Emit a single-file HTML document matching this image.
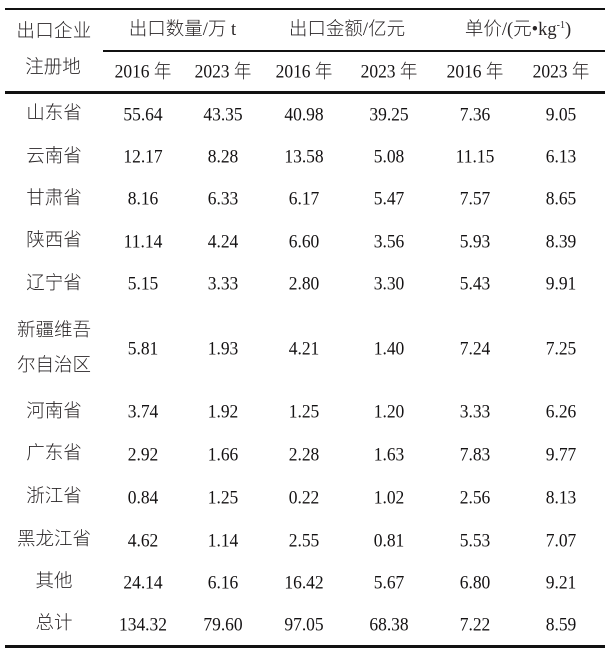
<!DOCTYPE html>
<html>
<head>
<meta charset="utf-8">
<style>
  html, body { margin:0; padding:0; background:#fff; }
  body { width:605px; height:657px; position:relative; overflow:hidden;
         font-family:"Liberation Serif","Noto Sans CJK SC",serif; color:#1a1718; }
  .l { position:absolute; background:#111; }
  .t { position:absolute; white-space:nowrap; line-height:1;
       transform:translate(-50%,-50%); }
  .c { font-family:"Liberation Serif","Noto Sans CJK SC",sans-serif; font-size:18.5px; font-weight:300; color:#2a2627; }
  .n { font-size:19px; transform:translate(-50%,-50%) scaleX(0.92); color:#141213; }
  .n span { font-weight:300; color:#2a2627; }
  .h { font-size:18.5px; font-weight:300; color:#2a2627; }
  sup { font-size:10px; vertical-align:7px; line-height:0; }
</style>
</head>
<body>
<div class="l" style="left:5px;top:7.5px;width:600px;height:2.5px"></div>
<div class="l" style="left:103px;top:50px;width:502px;height:2px"></div>
<div class="l" style="left:5px;top:91px;width:600px;height:2.5px"></div>
<div class="l" style="left:5px;top:645px;width:600px;height:2.5px"></div>

<div class="t c" style="left:54px;top:31.5px;letter-spacing:0.3px">出口企业</div>
<div class="t c" style="left:53px;top:68px">注册地</div>
<div class="t h" style="left:182.5px;top:30px">出口数量/万 t</div>
<div class="t h" style="left:347px;top:30px">出口金额/亿元</div>
<div class="t h" style="left:518px;top:30px">单价/(元•kg<sup>-1</sup>)</div>

<div class="t n" style="left:143px;top:72px">2016 <span>年</span></div>
<div class="t n" style="left:222.5px;top:72px">2023 <span>年</span></div>
<div class="t n" style="left:304px;top:72px">2016 <span>年</span></div>
<div class="t n" style="left:389px;top:72px">2023 <span>年</span></div>
<div class="t n" style="left:475px;top:72px">2016 <span>年</span></div>
<div class="t n" style="left:561px;top:72px">2023 <span>年</span></div>

<!-- rows -->
<div class="t c" style="left:54px;top:114px">山东省</div>
<div class="t n" style="left:143px;top:114.5px">55.64</div>
<div class="t n" style="left:222.5px;top:114.5px">43.35</div>
<div class="t n" style="left:304px;top:114.5px">40.98</div>
<div class="t n" style="left:389px;top:114.5px">39.25</div>
<div class="t n" style="left:475px;top:114.5px">7.36</div>
<div class="t n" style="left:561px;top:114.5px">9.05</div>

<div class="t c" style="left:54px;top:156.5px">云南省</div>
<div class="t n" style="left:143px;top:157px">12.17</div>
<div class="t n" style="left:222.5px;top:157px">8.28</div>
<div class="t n" style="left:304px;top:157px">13.58</div>
<div class="t n" style="left:389px;top:157px">5.08</div>
<div class="t n" style="left:475px;top:157px">11.15</div>
<div class="t n" style="left:561px;top:157px">6.13</div>

<div class="t c" style="left:54px;top:198.5px">甘肃省</div>
<div class="t n" style="left:143px;top:199px">8.16</div>
<div class="t n" style="left:222.5px;top:199px">6.33</div>
<div class="t n" style="left:304px;top:199px">6.17</div>
<div class="t n" style="left:389px;top:199px">5.47</div>
<div class="t n" style="left:475px;top:199px">7.57</div>
<div class="t n" style="left:561px;top:199px">8.65</div>

<div class="t c" style="left:54px;top:241px">陕西省</div>
<div class="t n" style="left:143px;top:241.5px">11.14</div>
<div class="t n" style="left:222.5px;top:241.5px">4.24</div>
<div class="t n" style="left:304px;top:241.5px">6.60</div>
<div class="t n" style="left:389px;top:241.5px">3.56</div>
<div class="t n" style="left:475px;top:241.5px">5.93</div>
<div class="t n" style="left:561px;top:241.5px">8.39</div>

<div class="t c" style="left:54px;top:283.5px">辽宁省</div>
<div class="t n" style="left:143px;top:284px">5.15</div>
<div class="t n" style="left:222.5px;top:284px">3.33</div>
<div class="t n" style="left:304px;top:284px">2.80</div>
<div class="t n" style="left:389px;top:284px">3.30</div>
<div class="t n" style="left:475px;top:284px">5.43</div>
<div class="t n" style="left:561px;top:284px">9.91</div>

<div class="t c" style="left:54px;top:330.5px">新疆维吾</div>
<div class="t c" style="left:54px;top:365.5px">尔自治区</div>
<div class="t n" style="left:143px;top:349px">5.81</div>
<div class="t n" style="left:222.5px;top:349px">1.93</div>
<div class="t n" style="left:304px;top:349px">4.21</div>
<div class="t n" style="left:389px;top:349px">1.40</div>
<div class="t n" style="left:475px;top:349px">7.24</div>
<div class="t n" style="left:561px;top:349px">7.25</div>

<div class="t c" style="left:54px;top:411.5px">河南省</div>
<div class="t n" style="left:143px;top:412px">3.74</div>
<div class="t n" style="left:222.5px;top:412px">1.92</div>
<div class="t n" style="left:304px;top:412px">1.25</div>
<div class="t n" style="left:389px;top:412px">1.20</div>
<div class="t n" style="left:475px;top:412px">3.33</div>
<div class="t n" style="left:561px;top:412px">6.26</div>

<div class="t c" style="left:54px;top:454px">广东省</div>
<div class="t n" style="left:143px;top:454.5px">2.92</div>
<div class="t n" style="left:222.5px;top:454.5px">1.66</div>
<div class="t n" style="left:304px;top:454.5px">2.28</div>
<div class="t n" style="left:389px;top:454.5px">1.63</div>
<div class="t n" style="left:475px;top:454.5px">7.83</div>
<div class="t n" style="left:561px;top:454.5px">9.77</div>

<div class="t c" style="left:54px;top:497px">浙江省</div>
<div class="t n" style="left:143px;top:497.5px">0.84</div>
<div class="t n" style="left:222.5px;top:497.5px">1.25</div>
<div class="t n" style="left:304px;top:497.5px">0.22</div>
<div class="t n" style="left:389px;top:497.5px">1.02</div>
<div class="t n" style="left:475px;top:497.5px">2.56</div>
<div class="t n" style="left:561px;top:497.5px">8.13</div>

<div class="t c" style="left:54px;top:540px">黑龙江省</div>
<div class="t n" style="left:143px;top:540.5px">4.62</div>
<div class="t n" style="left:222.5px;top:540.5px">1.14</div>
<div class="t n" style="left:304px;top:540.5px">2.55</div>
<div class="t n" style="left:389px;top:540.5px">0.81</div>
<div class="t n" style="left:475px;top:540.5px">5.53</div>
<div class="t n" style="left:561px;top:540.5px">7.07</div>

<div class="t c" style="left:54px;top:582px">其他</div>
<div class="t n" style="left:143px;top:582.5px">24.14</div>
<div class="t n" style="left:222.5px;top:582.5px">6.16</div>
<div class="t n" style="left:304px;top:582.5px">16.42</div>
<div class="t n" style="left:389px;top:582.5px">5.67</div>
<div class="t n" style="left:475px;top:582.5px">6.80</div>
<div class="t n" style="left:561px;top:582.5px">9.21</div>

<div class="t c" style="left:54px;top:624px">总计</div>
<div class="t n" style="left:143px;top:624.5px">134.32</div>
<div class="t n" style="left:222.5px;top:624.5px">79.60</div>
<div class="t n" style="left:304px;top:624.5px">97.05</div>
<div class="t n" style="left:389px;top:624.5px">68.38</div>
<div class="t n" style="left:475px;top:624.5px">7.22</div>
<div class="t n" style="left:561px;top:624.5px">8.59</div>
</body>
</html>
